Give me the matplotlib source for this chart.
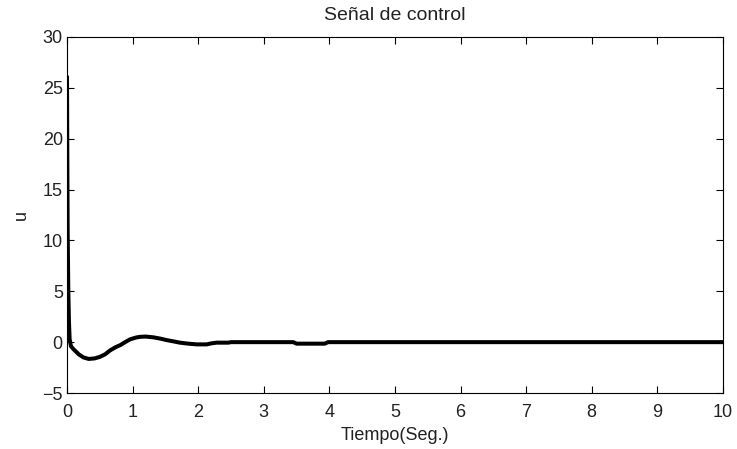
#!/usr/bin/env python3

"""Control signal u(t) plot.
"""

import matplotlib
matplotlib.use('Agg')
import matplotlib.pyplot as plt

plt.rcParams['font.family'] = ['Liberation Sans', 'DejaVu Sans']

# Values.
tiempo = [0.0, 0.005, 0.01, 0.02, 0.03, 0.04, 0.06, 0.1, 0.18, 0.25, 0.33,
          0.42, 0.5, 0.58, 0.66, 0.74, 0.81, 0.9, 0.96, 1.05, 1.11, 1.2,
          1.32, 1.42, 1.52, 1.62, 1.72, 1.85, 1.98, 2.13, 2.2, 2.28, 2.46,
          2.5, 2.6, 3.45, 3.5, 3.93, 3.98, 10.0]
u = [26.0, 18.0, 11.0, 5.0, 2.0, 0.3, -0.4, -0.7, -1.2, -1.5, -1.65,
     -1.6, -1.45, -1.2, -0.8, -0.5, -0.3, 0.05, 0.27, 0.45, 0.52, 0.55,
     0.47, 0.35, 0.2, 0.08, -0.05, -0.15, -0.22, -0.22, -0.12, -0.05, -0.05,
     0.0, 0.0, 0.0, -0.15, -0.15, 0.0, 0.0]

x_ticks = list(range(0, 11))
y_ticks = [-5, 0, 5, 10, 15, 20, 25, 30]

fig = plt.figure(figsize=(7.37, 4.49), dpi=100)
ax = fig.add_axes([0.0909, 0.1247, 0.890, 0.793])

ax.plot(tiempo, u, color='black', linewidth=2.9, solid_joinstyle='round')

ax.set_xlim(0, 10)
ax.set_ylim(-5, 30)
ax.set_xticks(x_ticks)
ax.set_yticks(y_ticks)

ax.tick_params(direction='in', length=5, width=0.8, top=True, right=True,
               labelsize=13, labelcolor='#222222')
ax.tick_params(axis='x', pad=8)
ax.tick_params(axis='y', pad=3)
for s in ax.spines.values():
    s.set_linewidth(0.8)

ax.set_title('Señal de control', fontsize=14, color='#222222', pad=12)
ax.set_xlabel('Tiempo(Seg.)', fontsize=13, color='#222222', labelpad=4)
ax.set_ylabel('u', fontsize=13, color='#222222', labelpad=9)

fig.savefig('out.png', dpi=100)
